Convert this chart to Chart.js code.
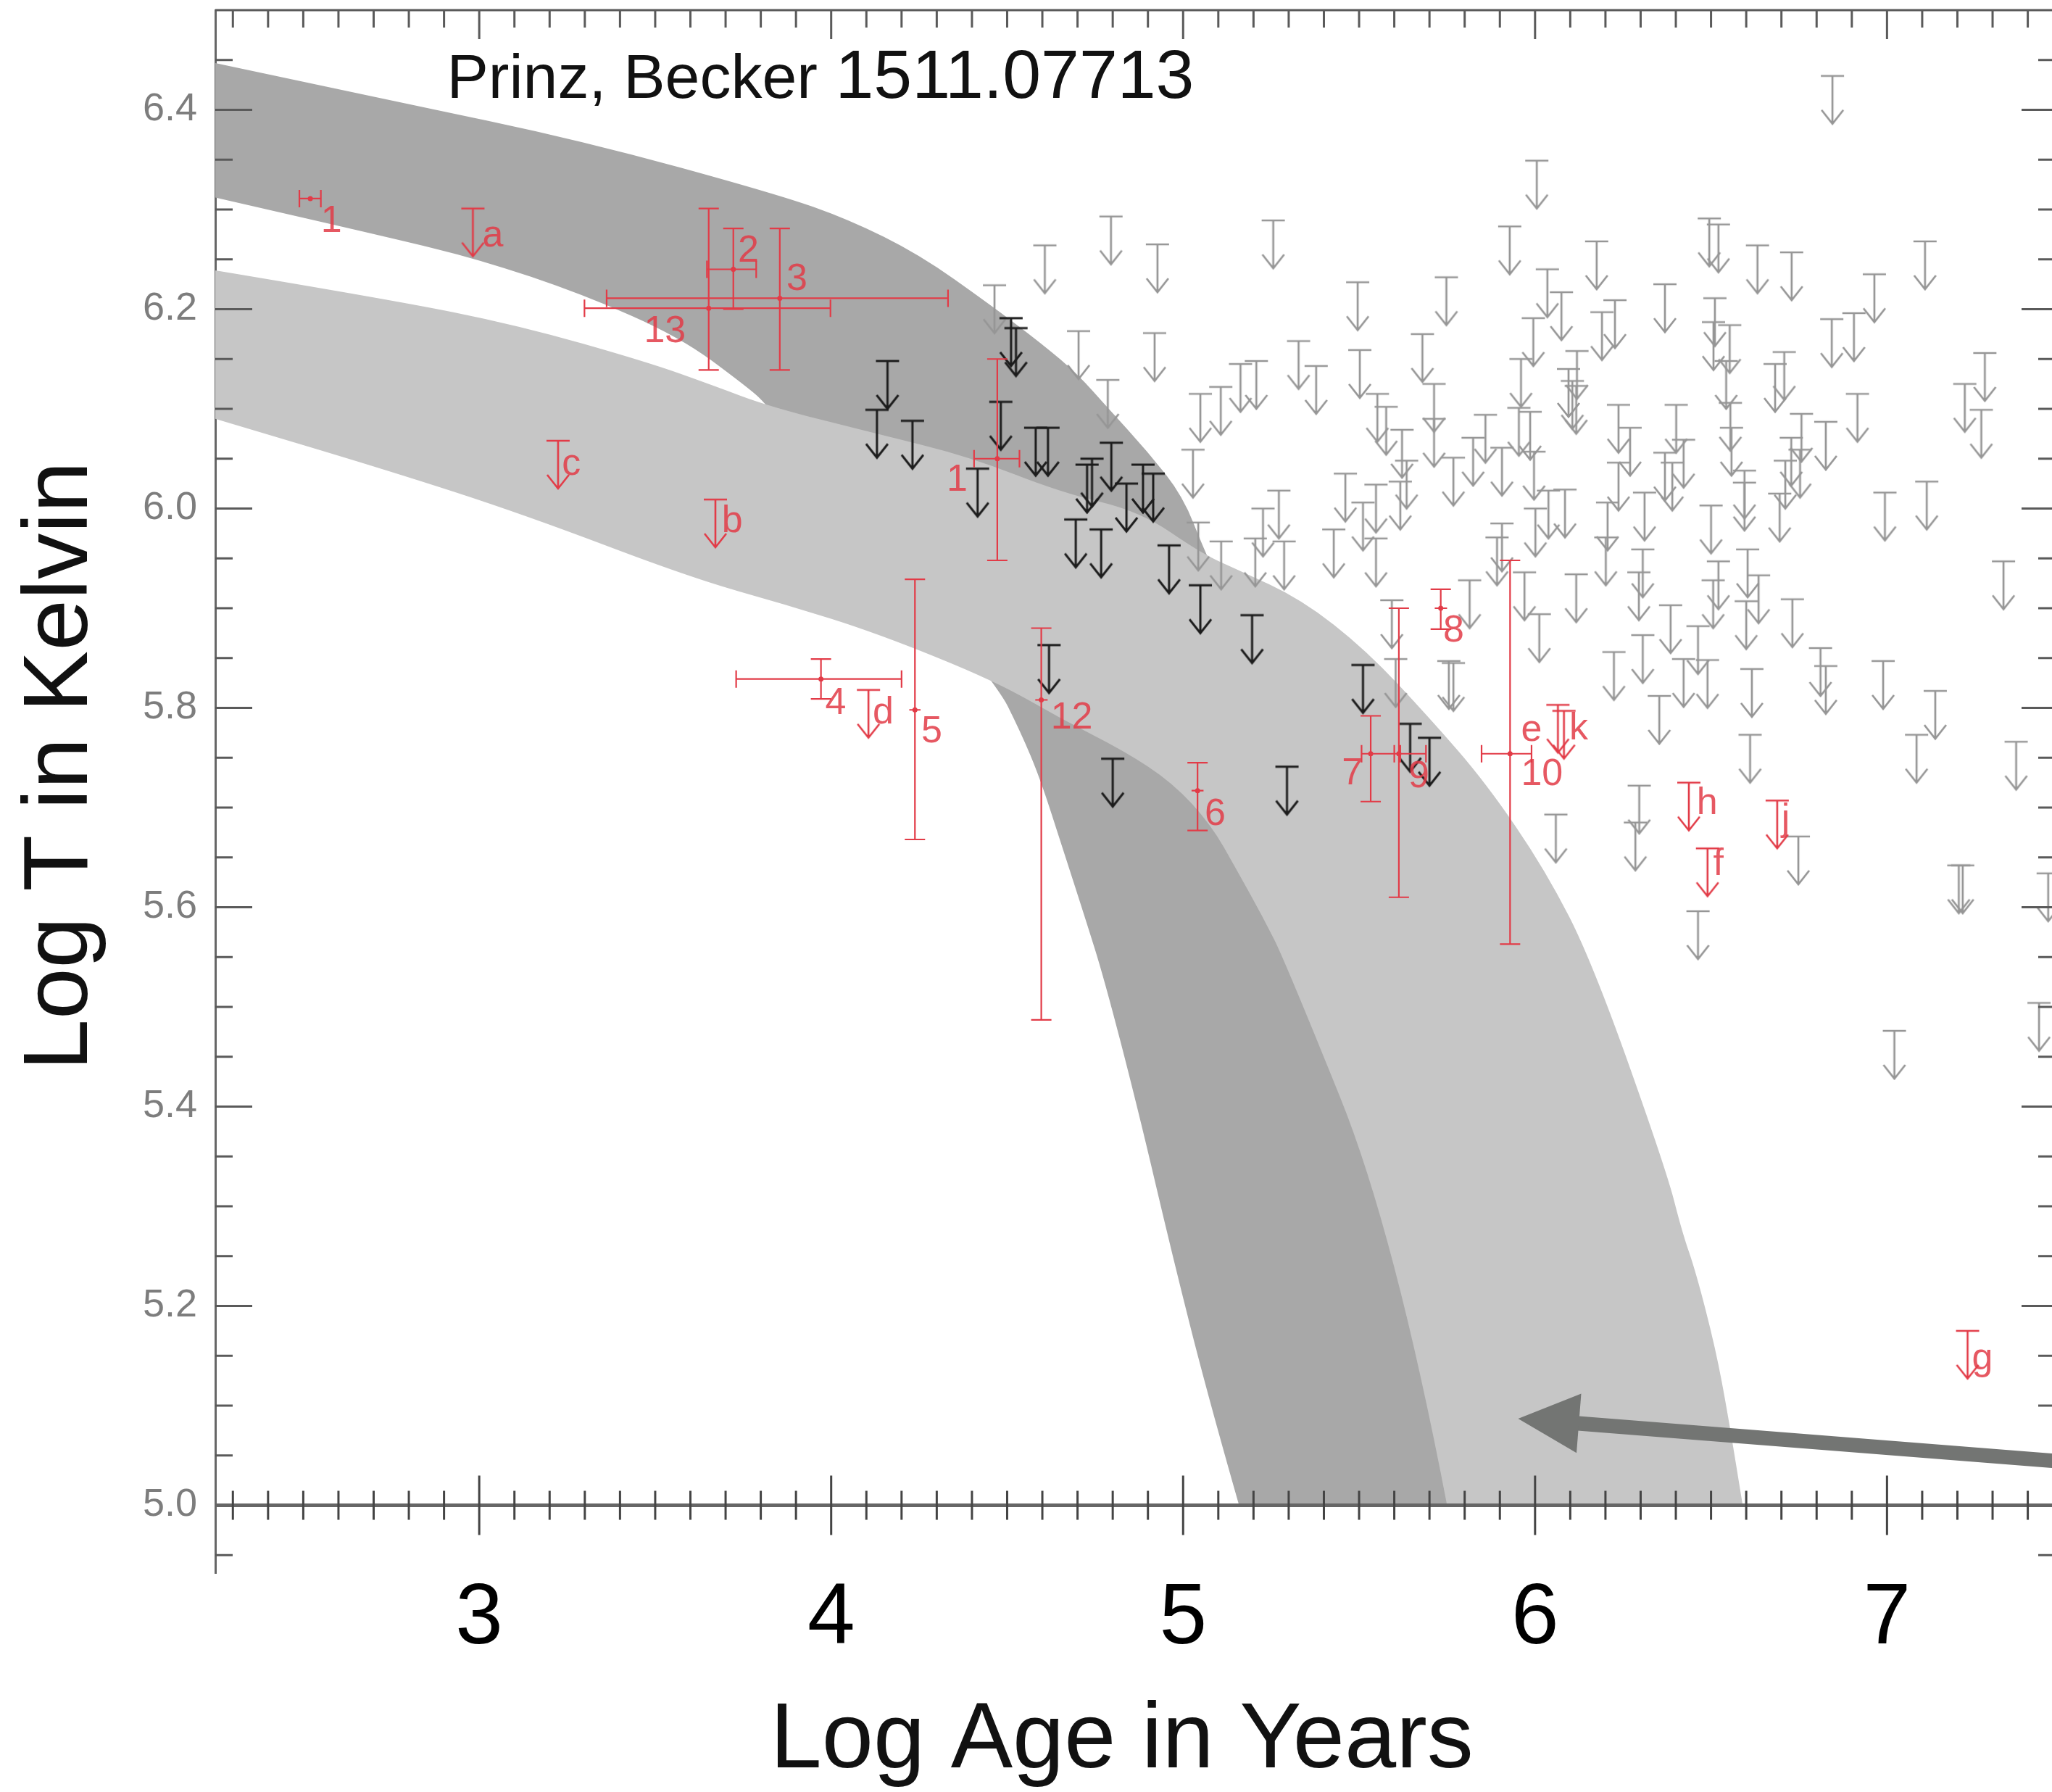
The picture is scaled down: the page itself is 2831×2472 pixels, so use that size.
<!DOCTYPE html>
<html>
<head>
<meta charset="utf-8">
<title>Log T vs Log Age</title>
<script src="https://cdn.jsdelivr.net/npm/chart.js@4.4.1/dist/chart.umd.min.js"></script>
<style>
    html, body { margin: 0; padding: 0; background: #fff; overflow: hidden; }
    canvas { display: block; }
</style>
</head>
<body>
<canvas id="coolingChart" width="2840" height="2472" style="width:2840px;height:2472px"></canvas>
<script>
(function () {
    'use strict';

    // axis ticks
    var ageTicks = [3, 4, 5, 6, 7];
    var tempTicks = [5.0, 5.2, 5.4, 5.6, 5.8, 6.0, 6.2, 6.4];
    var axisLineTemp = 5.0;

    // cooling bands, [log age, log T]
    var bandDarkUpper = [[2.25, 6.447], [2.743, 6.410], [3.294, 6.369], [3.85, 6.315], [4.05, 6.29],
        [4.25, 6.255], [4.45, 6.205], [4.60, 6.165], [4.70, 6.135], [4.786, 6.101], [4.90, 6.057],
        [5.00, 6.012], [5.06, 5.958], [5.20, 5.85], [5.50, 5.60], [5.80, 5.25], [6.10, 5.0]];
    var bandDarkLower = [[2.25, 6.312], [2.743, 6.272], [3.0, 6.250], [3.294, 6.215], [3.570, 6.172],
        [3.75, 6.125], [3.827, 6.102], [4.466, 5.827], [4.538, 5.776], [4.593, 5.730], [4.657, 5.660],
        [4.721, 5.590], [4.776, 5.528], [4.87, 5.40], [4.97, 5.25], [5.07, 5.11], [5.159, 5.0]];
    var bandLightUpper = [[2.25, 6.239], [2.743, 6.210], [3.110, 6.184], [3.478, 6.147], [3.661, 6.124],
        [3.827, 6.102], [4.130, 6.075], [4.393, 6.052], [4.654, 6.016], [4.878, 5.997], [5.052, 5.955],
        [5.153, 5.939], [5.336, 5.909], [5.520, 5.858], [5.70, 5.79], [5.86, 5.725], [6.03, 5.637],
        [6.164, 5.544], [6.373, 5.336], [6.418, 5.274], [6.457, 5.234], [6.513, 5.157], [6.548, 5.091],
        [6.590, 5.0]];
    var bandLightLower = [[2.25, 6.090], [2.743, 6.038], [3.127, 5.994], [3.606, 5.930], [3.869, 5.904],
        [4.130, 5.875], [4.466, 5.827], [4.648, 5.790], [4.832, 5.757], [4.970, 5.725], [5.079, 5.683],
        [5.153, 5.637], [5.227, 5.590], [5.291, 5.545], [5.601, 5.274], [5.75, 5.0]];

    // upper limits, [log age, log T]
    var grayLimits = [
        [6.845, 6.434], [6.005, 6.349],
        [4.795, 6.293], [4.607, 6.264], [4.927, 6.265], [5.256, 6.289], [4.464, 6.224], [5.496, 6.227],
        [5.748, 6.232], [4.703, 6.178], [4.919, 6.176], [5.328, 6.168], [5.502, 6.159], [5.680, 6.175],
        [4.786, 6.129], [5.163, 6.145], [5.208, 6.148], [5.378, 6.143], [5.049, 6.115], [5.107, 6.122],
        [5.552, 6.115], [5.577, 6.102], [5.713, 6.125], [5.622, 6.079], [5.635, 6.048], [5.713, 6.090],
        [5.768, 6.051], [5.824, 6.071], [5.028, 6.059], [5.461, 6.035], [5.272, 6.018], [5.227, 6.000],
        [5.511, 6.006], [5.548, 6.024], [5.617, 6.027], [5.428, 5.979], [5.548, 5.970], [5.287, 5.967],
        [5.205, 5.970], [5.108, 5.967], [5.043, 5.986], [5.814, 5.928], [5.593, 5.908], [5.604, 5.849],
        [5.755, 5.847], [5.768, 5.845],
        [5.928, 6.283], [6.175, 6.268], [6.495, 6.291], [6.521, 6.285], [6.632, 6.264], [6.729, 6.257],
        [7.108, 6.268], [6.964, 6.235], [6.035, 6.240], [6.075, 6.217], [6.369, 6.225], [5.995, 6.191],
        [6.190, 6.197], [6.227, 6.209], [6.511, 6.211], [6.507, 6.187], [6.553, 6.184], [6.843, 6.190],
        [6.906, 6.196], [7.278, 6.156], [7.221, 6.125], [7.268, 6.099], [6.916, 6.115], [6.708, 6.157],
        [6.682, 6.145], [6.119, 6.158], [5.960, 6.150], [6.095, 6.140], [6.106, 6.128], [6.117, 6.123],
        [6.543, 6.148], [6.555, 6.106], [6.558, 6.081], [5.859, 6.094], [5.954, 6.101], [5.986, 6.097],
        [5.906, 6.061], [5.997, 6.057], [6.237, 6.104], [6.270, 6.081], [6.401, 6.104], [6.422, 6.069],
        [6.757, 6.095], [6.826, 6.087], [6.728, 6.071], [6.753, 6.059], [6.994, 6.016], [7.113, 6.027],
        [7.331, 5.947], [6.595, 6.038], [6.595, 6.026], [6.711, 6.048], [6.695, 6.015], [6.500, 6.003],
        [6.369, 6.056], [6.390, 6.046], [6.237, 6.046], [6.311, 6.016], [6.206, 6.006], [6.085, 6.019],
        [6.038, 6.018], [6.001, 6.000], [5.906, 5.985], [5.892, 5.971], [5.970, 5.936], [6.117, 5.934],
        [6.201, 5.971], [6.306, 5.959], [6.295, 5.936], [6.385, 5.903], [6.521, 5.947], [6.506, 5.928],
        [6.604, 5.959], [6.635, 5.933], [6.731, 5.909], [6.600, 5.907], [6.463, 5.882], [6.012, 5.894],
        [6.811, 5.860],
        [6.224, 5.856], [6.306, 5.873], [6.422, 5.849], [6.490, 5.848], [6.616, 5.839], [6.826, 5.842],
        [6.989, 5.847], [7.137, 5.817], [6.353, 5.812], [6.611, 5.773], [7.084, 5.773], [7.367, 5.766],
        [6.296, 5.722], [6.285, 5.685], [6.059, 5.693], [6.748, 5.671], [6.463, 5.596], [7.204, 5.642],
        [7.215, 5.642], [7.458, 5.634], [7.021, 5.476], [7.432, 5.504]
    ];
    var blackLimits = [
        [4.511, 6.191], [4.525, 6.181], [4.160, 6.148], [4.130, 6.099], [4.231, 6.088], [4.482, 6.107],
        [4.416, 6.040], [4.581, 6.081], [4.616, 6.081], [4.727, 6.044], [4.741, 6.050], [4.796, 6.066],
        [4.839, 6.025], [4.886, 6.044], [4.915, 6.035], [4.695, 5.989], [4.767, 5.979], [4.960, 5.963],
        [5.049, 5.923], [5.196, 5.893], [4.619, 5.863], [4.800, 5.749], [5.295, 5.741], [5.511, 5.843],
        [5.645, 5.784], [5.700, 5.770]
    ];
    var redLimits = [
        [2.982, 6.301], [3.224, 6.068], [3.671, 6.009], [4.106, 5.818], [6.065, 5.803], [6.082, 5.797],
        [6.437, 5.725], [6.688, 5.707], [6.490, 5.659], [7.229, 5.175]
    ];

    // measurements: [age, T, age low, age high, T low, T high]
    var measured = [
        [2.520, 6.311, 2.489, 2.550, 6.311, 6.311],
        [3.722, 6.240, 3.647, 3.787, 6.200, 6.281],
        [3.854, 6.211, 3.362, 4.332, 6.139, 6.281],
        [3.652, 6.201, 3.299, 3.998, 6.139, 6.301],
        [4.472, 6.050, 4.406, 4.535, 5.948, 6.150],
        [3.971, 5.829, 3.730, 4.200, 5.809, 5.849],
        [4.238, 5.798, 4.222, 4.254, 5.668, 5.929],
        [4.597, 5.808, 4.580, 4.615, 5.487, 5.880],
        [5.041, 5.717, 5.024, 5.058, 5.677, 5.745],
        [5.533, 5.754, 5.507, 5.617, 5.706, 5.792],
        [5.613, 5.754, 5.600, 5.690, 5.610, 5.900],
        [5.732, 5.900, 5.715, 5.750, 5.879, 5.919],
        [5.929, 5.754, 5.848, 5.990, 5.563, 5.948]
    ];

    // source names, placed at [age, T]
    var sourceLabels = [
        ['1', 2.550, 6.288], ['a', 3.009, 6.273], ['2', 3.735, 6.258], ['3', 3.873, 6.230],
        ['13', 3.468, 6.177], ['c', 3.235, 6.044], ['b', 3.689, 5.987], ['1', 4.328, 6.028],
        ['4', 3.983, 5.804], ['d', 4.118, 5.795], ['5', 4.256, 5.776], ['12', 4.624, 5.790],
        ['6', 5.061, 5.693], ['7', 5.451, 5.734], ['9', 5.640, 5.731], ['8', 5.739, 5.877],
        ['10', 5.960, 5.733], ['e', 5.960, 5.777], ['k', 6.097, 5.779], ['h', 6.459, 5.704],
        ['j', 6.700, 5.688], ['f', 6.506, 5.643], ['g', 7.241, 5.147]
    ];

    var noteText = ['Prinz, Becker', '1511.07713'];
    var noteAt = [[2.908, 6.412], [4.012, 6.412]];
    var pointerTail = [7.6, 5.041];
    var pointerTip = [5.952, 5.087];

    var FONT = '"Liberation Sans", Arial, Helvetica, sans-serif';
    var RED = '#e23b47';

    function makeArrow(color, lw) {
        var c = document.createElement('canvas');
        c.width = 40;
        c.height = 140;
        var g = c.getContext('2d');
        g.strokeStyle = color;
        g.lineWidth = lw;
        g.beginPath();
        g.moveTo(4, 70); g.lineTo(36, 70);
        g.moveTo(20, 70); g.lineTo(20, 135);
        g.moveTo(5, 117); g.lineTo(20, 136); g.lineTo(35, 117);
        g.stroke();
        return c;
    }

    function toXY(list) {
        return list.map(function (p) { return { x: p[0], y: p[1] }; });
    }

    function pix(chart, p) {
        return [chart.scales.x.getPixelForValue(p[0]), chart.scales.y.getPixelForValue(p[1])];
    }

    function smoothEdge(ctx, pts, move) {
        if (move) { ctx.moveTo(pts[0][0], pts[0][1]); } else { ctx.lineTo(pts[0][0], pts[0][1]); }
        for (var i = 1; i < pts.length - 1; i++) {
            ctx.quadraticCurveTo(pts[i][0], pts[i][1],
                (pts[i][0] + pts[i + 1][0]) / 2, (pts[i][1] + pts[i + 1][1]) / 2);
        }
        var last = pts[pts.length - 1];
        ctx.lineTo(last[0], last[1]);
    }

    function fillBand(ctx, chart, upper, lower, color) {
        var up = upper.map(function (p) { return pix(chart, p); });
        var lo = lower.map(function (p) { return pix(chart, p); }).reverse();
        ctx.beginPath();
        smoothEdge(ctx, up, true);
        smoothEdge(ctx, lo, false);
        ctx.closePath();
        ctx.fillStyle = color;
        ctx.fill();
    }

    var framePlugin = {
        id: 'frameAndNotes',
        beforeDatasetsDraw: function (chart) {
            var ctx = chart.ctx;
            ctx.save();
            fillBand(ctx, chart, bandDarkUpper, bandDarkLower, '#a8a8a8');
            fillBand(ctx, chart, bandLightUpper, bandLightLower, '#c6c6c6');
            ctx.restore();
        },
        afterDatasetsDraw: function (chart) {
            var ctx = chart.ctx, a = chart.chartArea, sx = chart.scales.x, sy = chart.scales.y;
            var k, x, y, big;
            ctx.save();

            // frame and inward ticks
            ctx.strokeStyle = '#5a5a5a';
            ctx.lineWidth = 3;
            ctx.beginPath();
            ctx.moveTo(a.left, a.top); ctx.lineTo(a.right, a.top);
            for (k = 23; k <= 74; k++) {
                x = sx.getPixelForValue(k / 10);
                big = k % 10 === 0;
                ctx.moveTo(x, a.top); ctx.lineTo(x, a.top + (big ? 40 : 24));
            }
            for (k = 99; k <= 129; k++) {
                y = sy.getPixelForValue(k / 20);
                big = k % 4 === 0;
                ctx.moveTo(a.left, y); ctx.lineTo(a.left + (big ? 51 : 24), y);
                ctx.moveTo(a.right, y); ctx.lineTo(a.right - (big ? 45 : 22), y);
            }
            ctx.stroke();

            // axis line at log T = 5.0
            var y5 = sy.getPixelForValue(axisLineTemp);
            ctx.strokeStyle = '#666';
            ctx.lineWidth = 5;
            ctx.beginPath();
            ctx.moveTo(a.left, y5); ctx.lineTo(a.right, y5);
            ctx.stroke();
            ctx.lineWidth = 3;
            ctx.strokeStyle = '#444';
            ctx.beginPath();
            for (k = 23; k <= 74; k++) {
                x = sx.getPixelForValue(k / 10);
                big = k % 10 === 0;
                ctx.moveTo(x, y5 - (big ? 41 : 20)); ctx.lineTo(x, y5 + (big ? 41 : 20));
            }
            ctx.stroke();

            // error bars
            ctx.strokeStyle = RED;
            ctx.lineWidth = 2.2;
            ctx.beginPath();
            measured.forEach(function (p) {
                var cx = sx.getPixelForValue(p[0]), cy = sy.getPixelForValue(p[1]);
                var xl = sx.getPixelForValue(p[2]), xh = sx.getPixelForValue(p[3]);
                var yl = sy.getPixelForValue(p[4]), yh = sy.getPixelForValue(p[5]);
                ctx.moveTo(xl, cy); ctx.lineTo(xh, cy);
                if (xh - xl > 25) {
                    ctx.moveTo(xl, cy - 12); ctx.lineTo(xl, cy + 12);
                    ctx.moveTo(xh, cy - 12); ctx.lineTo(xh, cy + 12);
                }
                if (yl - yh > 8) {
                    ctx.moveTo(cx, yh); ctx.lineTo(cx, yl);
                    ctx.moveTo(cx - 14, yh); ctx.lineTo(cx + 14, yh);
                    ctx.moveTo(cx - 14, yl); ctx.lineTo(cx + 14, yl);
                }
            });
            ctx.stroke();

            // source names
            ctx.fillStyle = 'rgba(226,59,71,0.85)';
            ctx.font = '52px ' + FONT;
            ctx.textAlign = 'left';
            ctx.textBaseline = 'middle';
            sourceLabels.forEach(function (l) {
                var q = pix(chart, [l[1], l[2]]);
                ctx.fillText(l[0], q[0], q[1]);
            });

            // reference note
            ctx.fillStyle = '#111';
            ctx.textBaseline = 'alphabetic';
            var n0 = pix(chart, noteAt[0]), n1 = pix(chart, noteAt[1]);
            ctx.font = '86px ' + FONT;
            ctx.fillText(noteText[0], n0[0], n0[1]);
            ctx.font = '95px ' + FONT;
            ctx.fillText(noteText[1], n1[0], n1[1]);

            // pointer arrow
            var t = pix(chart, pointerTail), h = pix(chart, pointerTip);
            var dx = t[0] - h[0], dy = t[1] - h[1], len = Math.sqrt(dx * dx + dy * dy);
            var ux = dx / len, uy = dy / len;
            var bx = h[0] + ux * 84, by = h[1] + uy * 84;
            ctx.strokeStyle = '#737573';
            ctx.fillStyle = '#737573';
            ctx.lineWidth = 20;
            ctx.beginPath();
            ctx.moveTo(t[0], t[1]); ctx.lineTo(bx - ux * 4, by - uy * 4);
            ctx.stroke();
            ctx.beginPath();
            ctx.moveTo(h[0], h[1]);
            ctx.lineTo(bx - uy * 41, by + ux * 41);
            ctx.lineTo(bx + uy * 41, by - ux * 41);
            ctx.closePath();
            ctx.fill();

            ctx.restore();
        }
    };

    Chart.defaults.font.family = FONT;

    var canvas = document.getElementById('coolingChart');
    new Chart(canvas.getContext('2d'), {
        type: 'scatter',
        data: {
            datasets: [{
                label: 'Upper limits',
                data: toXY(grayLimits),
                pointStyle: makeArrow('#969696', 2.7),
                pointRadius: 5,
                order: 3
            }, {
                label: 'Upper limits (sample)',
                data: toXY(blackLimits),
                pointStyle: makeArrow('#1c1c1c', 3),
                pointRadius: 5,
                order: 2
            }, {
                label: 'Upper limits (named)',
                data: toXY(redLimits),
                pointStyle: makeArrow(RED, 2.6),
                pointRadius: 5,
                order: 1
            }, {
                label: 'Measured',
                data: toXY(measured),
                pointStyle: 'circle',
                pointRadius: 3.5,
                backgroundColor: RED,
                borderWidth: 0,
                order: 0
            }]
        },
        options: {
            responsive: false,
            animation: false,
            devicePixelRatio: 1,
            events: [],
            layout: { padding: { top: 14, right: 4, left: 0, bottom: 0 } },
            plugins: {
                legend: { display: false },
                tooltip: { enabled: false }
            },
            scales: {
                x: {
                    type: 'linear',
                    min: 2.25,
                    max: 7.475,
                    afterFit: function (scale) {
                        scale.height = 302;
                        scale.paddingLeft = 0;
                        scale.paddingRight = 0;
                    },
                    afterBuildTicks: function (scale) {
                        scale.ticks = ageTicks.map(function (v) { return { value: v }; });
                    },
                    grid: { display: false, drawTicks: false },
                    border: { display: false },
                    ticks: {
                        color: '#000',
                        padding: -6,
                        font: { size: 118 },
                        maxRotation: 0,
                        callback: function (value) { return String(value); }
                    },
                    title: {
                        display: true,
                        text: 'Log Age in Years ',
                        color: '#111',
                        font: { size: 128 },
                        padding: { top: 0, bottom: -8 }
                    }
                },
                y: {
                    type: 'linear',
                    min: 4.932,
                    max: 6.5,
                    afterFit: function (scale) {
                        scale.width = 297;
                        scale.paddingTop = 0;
                        scale.paddingBottom = 0;
                    },
                    afterBuildTicks: function (scale) {
                        scale.ticks = tempTicks.map(function (v) { return { value: v }; });
                    },
                    grid: { display: false, drawTicks: false },
                    border: { display: true, color: '#666', width: 3 },
                    ticks: {
                        color: '#7d7d7d',
                        padding: 25,
                        font: { size: 54 },
                        callback: function (value) { return Number(value).toFixed(1); }
                    },
                    title: {
                        display: true,
                        text: '  Log T in Kelvin',
                        color: '#111',
                        font: { size: 127 },
                        padding: { top: 9, bottom: 0 }
                    }
                }
            }
        },
        plugins: [framePlugin]
    });
})();
</script>
</body>
</html>
